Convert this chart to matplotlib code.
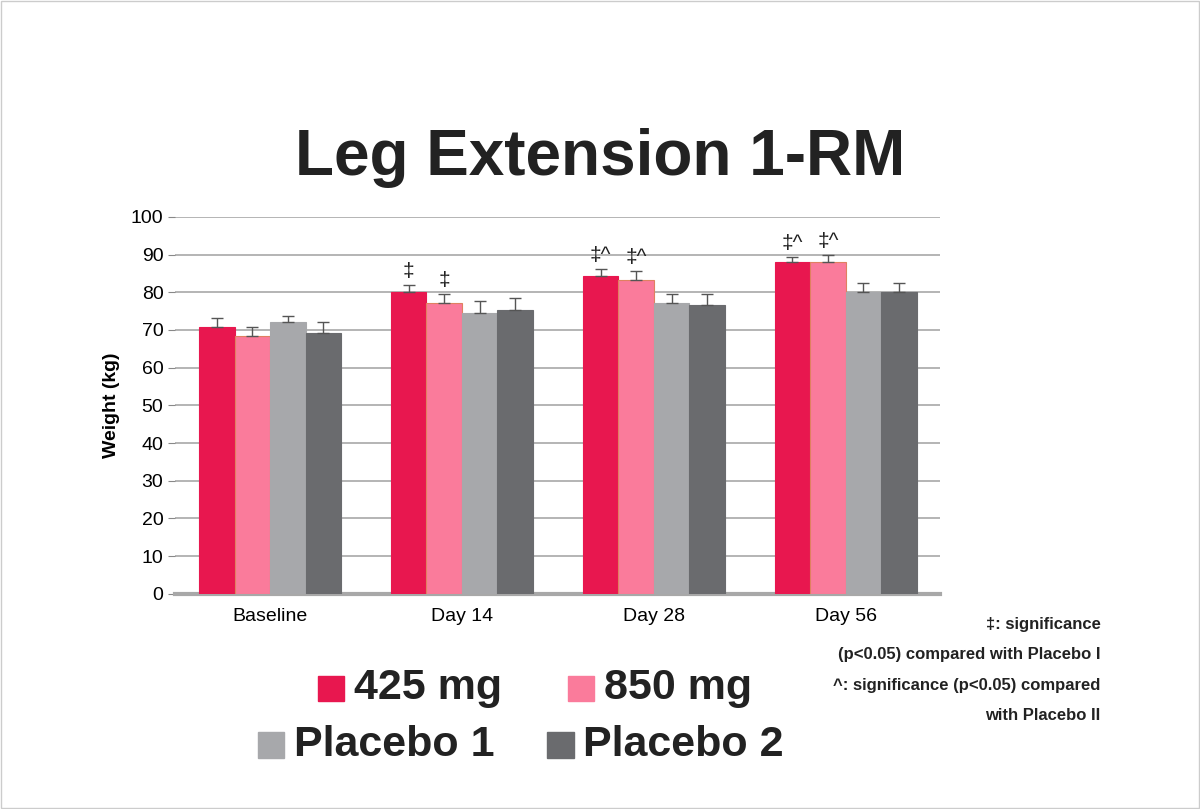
import matplotlib
matplotlib.use("Agg")
import matplotlib.pyplot as plt
from matplotlib.patches import Rectangle
import numpy as np

plt.rcParams["font.family"] = "Liberation Sans"

categories = ["Baseline", "Day 14", "Day 28", "Day 56"]
series = ["425 mg", "850 mg", "Placebo 1", "Placebo 2"]
v425 = [70.8, 80.1, 84.4, 88.1]
v850 = [68.4, 77.2, 83.3, 88.1]
vp1 = [72.1, 74.5, 77.2, 80.1]
vp2 = [69.2, 75.3, 76.7, 80.1]
e425 = [2.4, 1.9, 1.8, 1.3]
e850 = [2.4, 2.4, 2.4, 1.8]
ep1 = [1.6, 3.2, 2.4, 2.4]
ep2 = [2.9, 3.2, 2.9, 2.4]
sig425 = ["", "‡", "‡^", "‡^"]
sig850 = ["", "‡", "‡^", "‡^"]
yticks = [0, 10, 20, 30, 40, 50, 60, 70, 80, 90, 100]

colors = ["#E8174F", "#FA7B9B", "#A7A8AB", "#6A6B6E"]
vals = [v425, v850, vp1, vp2]
errs = [e425, e850, ep1, ep2]
sigs = [sig425, sig850, None, None]

fig = plt.figure(figsize=(12, 8.09), dpi=100)
fig.patches.append(Rectangle((0.001, 0.001), 0.998, 0.998, transform=fig.transFigure,
                             fill=False, edgecolor="#CCCCCC", lw=1))
ax = fig.add_axes([0.146, 0.266, 0.637, 0.466])
x = np.arange(len(categories))
w = 0.185
for i in range(4):
    pos = x + (i - 1.5) * w
    ax.bar(pos, vals[i], w, color=colors[i], edgecolor=("#E08060" if i == 1 else colors[i]),
           lw=0.8, zorder=3)
    ax.errorbar(pos, vals[i], yerr=[np.zeros(4), errs[i]], fmt="none", ecolor="#555555",
                capsize=4, elinewidth=1, capthick=1, zorder=4)
    if sigs[i]:
        for p, v, e, s in zip(pos, vals[i], errs[i], sigs[i]):
            if s:
                ax.text(p, v + e + 1.0, s, ha="center", va="bottom", fontsize=15, color="#222222")

ax.set_xlim(-0.495, 3.49)
ax.set_ylim(0, 100)
ax.set_yticks(yticks)
ax.set_xticks(x)
ax.set_xticklabels(categories, fontsize=14)
ax.tick_params(axis="y", labelsize=14, length=5, color="#888888")
ax.tick_params(axis="x", length=0, pad=10)
ax.yaxis.grid(True, color="#A8A8A8", lw=1.2, zorder=0)
for s in ["top", "right", "left"]:
    ax.spines[s].set_visible(False)
ax.spines["bottom"].set_color("#A8A8A8")
ax.spines["bottom"].set_linewidth(3)
ax.set_ylabel("Weight (kg)", fontsize=14, fontweight="bold", labelpad=8)

fig.text(0.5, 0.805, "Leg Extension 1-RM", ha="center", va="center", fontsize=46, fontweight="bold",
         color="#222222")

items = [(0.265, 0.149, 0), (0.473, 0.149, 1), (0.215, 0.079, 2), (0.456, 0.079, 3)]
for lx, ly, i in items:
    fig.patches.append(Rectangle((lx, ly - 0.016), 0.022, 0.032, transform=fig.transFigure,
                                 color=colors[i]))
    fig.text(lx + 0.03, ly, series[i], ha="left", va="center", fontsize=31, fontweight="bold",
             color="#222222")

notes = ["‡: significance", "(p<0.05) compared with Placebo I",
         "^: significance (p<0.05) compared", "with Placebo II"]
for k, t in enumerate(notes):
    fig.text(0.917, 0.228 - k * 0.0375, t, ha="right", va="center", fontsize=12,
             fontweight="bold", color="#222222")

fig.savefig("out.png", dpi=100)
